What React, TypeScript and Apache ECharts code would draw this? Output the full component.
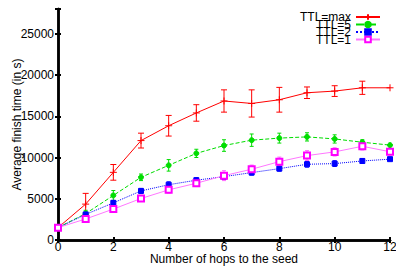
import React, { useEffect, useRef } from "react";
import * as echarts from "echarts";

const hops = [0, 1, 2, 3, 4, 5, 6, 7, 8, 9, 10, 11, 12];
const ttlMax = [1500, 4350, 8200, 12050, 13850, 15400, 16850, 16550, 17000, 17850, 18050, 18450, 18450];
const errMax = [0, 1300, 950, 900, 1250, 1000, 1350, 1650, 1500, 700, 650, 800, 0];
const ttl5 = [1500, 3200, 5400, 7600, 9050, 10500, 11450, 12100, 12350, 12500, 12250, 11850, 11500];
const err5 = [0, 400, 600, 400, 700, 500, 700, 750, 600, 500, 500, 300, 0];
const ttl2 = [1500, 3100, 4500, 5950, 6700, 7250, 7680, 8170, 8650, 9180, 9260, 9580, 9800];
const err2 = [0, 250, 300, 300, 350, 300, 300, 300, 300, 350, 350, 300, 0];
const ttl1 = [1500, 2550, 3750, 5030, 6080, 6880, 7800, 8580, 9500, 10230, 10680, 11360, 10700];
const err1 = [0, 250, 300, 350, 400, 400, 600, 500, 550, 600, 500, 450, 0];

const seriesNames = ["TTL=max", "TTL=5", "TTL=2", "TTL=1"];
const yTicks = [0, 5000, 10000, 15000, 20000, 25000];

const FONT = "Liberation Sans, Arial, sans-serif";

function errorSeries(vals: number[], errs: number[], color: string, cap: number) {
  return {
    type: "custom",
    xAxisIndex: 0,
    yAxisIndex: 0,
    silent: true,
    z: 1,
    data: hops
      .map((h, i) => [h, vals[i] - errs[i], vals[i] + errs[i]])
      .filter((d, i) => errs[i] > 0),
    encode: { x: 0, y: [1, 2] },
    renderItem: (params: any, api: any) => {
      const lo = api.coord([api.value(0), api.value(1)]);
      const hi = api.coord([api.value(0), api.value(2)]);
      const st = { stroke: color, lineWidth: 1 };
      return {
        type: "group",
        children: [
          { type: "line", shape: { x1: lo[0], y1: lo[1], x2: hi[0], y2: hi[1] }, style: st },
          { type: "line", shape: { x1: lo[0] - cap, y1: lo[1], x2: lo[0] + cap, y2: lo[1] }, style: st },
          { type: "line", shape: { x1: hi[0] - cap, y1: hi[1], x2: hi[0] + cap, y2: hi[1] }, style: st },
        ],
      };
    },
  };
}

export default function App() {
  const ref = useRef<HTMLDivElement>(null);
  useEffect(() => {
    if (!ref.current) return;
    const chart = echarts.init(ref.current, null, { renderer: "svg" });
    const axisLine = { show: true, lineStyle: { color: "#000", width: 2.5 } };
    const axisTick = { show: true, inside: true, length: 3, lineStyle: { color: "#000", width: 2 } };
    const lineSeries = (name: string, vals: number[], color: string, type: string, symbol: string, size: number, symColor: string, lineColor?: string) => ({
      name,
      type: "line",
      xAxisIndex: 0,
      yAxisIndex: 0,
      z: 2,
      data: hops.map((h, i) => [h, vals[i]]),
      symbol,
      symbolSize: size,
      showAllSymbol: true,
      lineStyle: { color: lineColor || color, width: 1, type },
      itemStyle: { color: symColor, borderColor: symColor, borderWidth: 1 },
    });
    const legendTops = [11, 18.5, 26, 33.5];
    chart.setOption({
      animation: false,
      backgroundColor: "#fff",
      textStyle: { fontFamily: FONT },
      grid: { left: 58, right: 6, top: 9, bottom: 26, containLabel: false, outerBoundsMode: "none" },
      legend: seriesNames.map((n, i) => ({
        orient: "vertical",
        right: 15,
        top: legendTops[i],
        align: "right",
        itemWidth: 24,
        itemHeight: 7,
        itemGap: 0,
        padding: 0,
        data: [n],
        textStyle: { fontSize: 12, color: "#000", fontFamily: FONT },
      })),
      xAxis: [
        {
          type: "value",
          min: 0,
          max: 12,
          interval: 2,
          position: "bottom",
          name: "Number of hops to the seed",
          nameLocation: "middle",
          nameGap: 13,
          nameMoveOverlap: false,
          nameTextStyle: { fontSize: 12, color: "#000", fontFamily: FONT },
          axisLine,
          axisTick,
          splitLine: { show: false },
          axisLabel: { fontSize: 12, color: "#000", margin: 1, fontFamily: FONT },
        },
        {
          type: "value",
          min: 0,
          max: 12,
          interval: 2,
          position: "top",
          axisLine,
          axisTick,
          splitLine: { show: false },
          axisLabel: { show: false },
        },
      ],
      yAxis: [
        {
          type: "value",
          min: 0,
          max: 28000,
          interval: 5000,
          position: "left",
          name: "Average finish time (in s)",
          nameLocation: "middle",
          nameGap: 35,
          nameMoveOverlap: false,
          nameTextStyle: { fontSize: 12, color: "#000", fontFamily: FONT },
          axisLine,
          axisTick,
          splitLine: { show: false },
          axisLabel: {
            fontSize: 12,
            color: "#000",
            margin: 4,
            fontFamily: FONT,
            formatter: (v: number) => (yTicks.includes(v) ? String(v) : ""),
          },
        },
        {
          type: "value",
          min: 0,
          max: 28000,
          interval: 5000,
          position: "right",
          axisLine,
          axisTick,
          splitLine: { show: false },
          axisLabel: { show: false },
        },
      ],
      series: [
        errorSeries(ttlMax, errMax, "#ff0000", 3),
        errorSeries(ttl5, err5, "#00dd00", 2),
        errorSeries(ttl2, err2, "#0000ff", 2),
        errorSeries(ttl1, err1, "#ff66ff", 2),
        lineSeries(seriesNames[0], ttlMax, "#ff0000", "solid", "path://M4,0L4,8M0,4L8,4", 7, "#ff0000"),
        lineSeries(seriesNames[1], ttl5, "#00dd00", "dashed", "circle", 5, "#00dd00"),
        lineSeries(seriesNames[2], ttl2, "#0000ff", "dotted", "rect", 5, "#0000ff"),
        lineSeries(seriesNames[3], ttl1, "#ff00ff", "solid", "emptyRect", 6, "#ff00ff", "#ff77ff"),
      ],
    });
    return () => chart.dispose();
  }, []);
  return <div ref={ref} style={{ width: 396, height: 266, position: "absolute", left: 0, top: 0 }} />;
}
